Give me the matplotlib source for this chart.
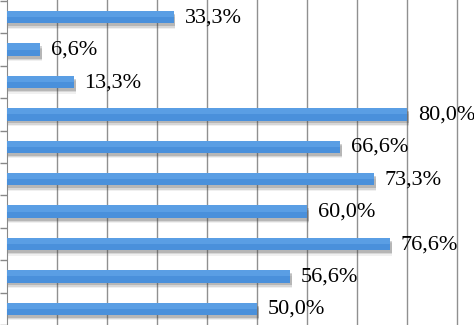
import matplotlib.pyplot as plt
import numpy as np

# значения сверху вниз
values = [33.3, 6.6, 13.3, 80.0, 66.6, 73.3, 60.0, 76.6, 56.6, 50.0]
labels = ["33,3%", "6,6%", "13,3%", "80,0%", "66,6%",
          "73,3%", "60,0%", "76,6%", "56,6%", "50,0%"]

plt.rcParams['font.family'] = ['Liberation Serif', 'DejaVu Serif']

fig = plt.figure(figsize=(4.74, 3.25), dpi=100)
ax = fig.add_axes([7 / 474, 0, 1 - 7 / 474, 1])

y = np.arange(len(values))
h = 0.38

# тень под столбиками
for k, a in [(0.17, 0.08), (0.13, 0.14), (0.09, 0.22)]:
    ax.barh(y + k, np.array(values) + 0.4, height=h, color='#444444', alpha=a, zorder=2, linewidth=0)

ax.barh(y, values, height=h, color='#4A90DB', zorder=3, linewidth=0)
ax.barh(y - h / 4, values, height=h / 2, color='#5A9EE4', zorder=4, linewidth=0)

for yi, v, lab in zip(y, values, labels):
    ax.text(v + 2.2, yi + 0.02, lab, va='center', ha='left', fontsize=16, color='black', zorder=5)

ax.set_xlim(0, 93.4)
ax.set_ylim(9.318, -0.53)

ax.set_xticks(np.arange(10, 100, 10))
ax.xaxis.grid(True, color='#909090', linewidth=1.0, zorder=1)
ax.set_axisbelow(True)
ax.tick_params(axis='x', length=0, labelbottom=False)

ax.set_yticks(np.arange(-0.5, 10, 1))
ax.tick_params(axis='y', length=5, color='#888888', width=1, labelleft=False)

for s in ['top', 'right', 'bottom']:
    ax.spines[s].set_visible(False)
ax.spines['left'].set_color('#888888')

plt.savefig("out.png", dpi=100)
